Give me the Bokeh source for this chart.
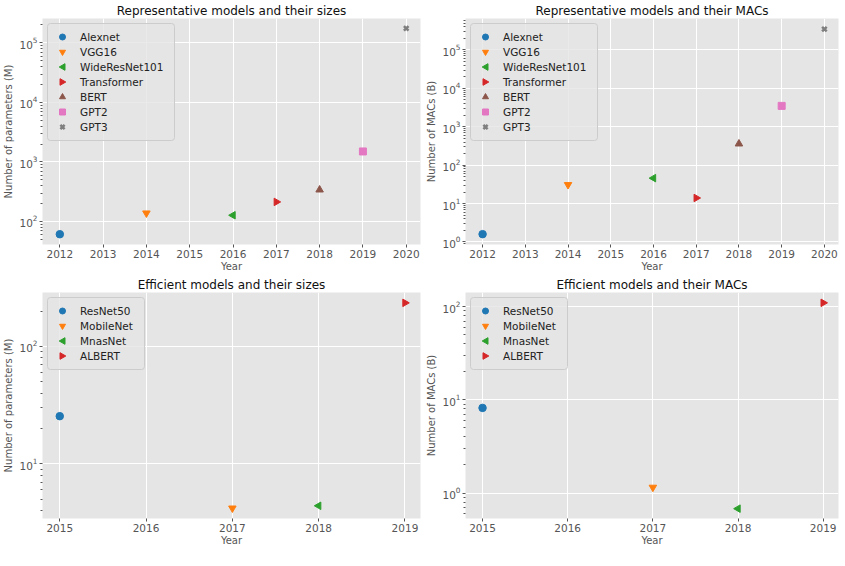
import math
from bokeh.plotting import figure
from bokeh.layouts import column, row
from bokeh.models import (Range1d, FixedTicker, LogTickFormatter, ColumnDataSource, Legend,
                          LegendItem, PolyAnnotation, BoxAnnotation)
from bokeh.embed import file_html
from bokeh.resources import INLINE

# ---- data ----
rep_models = ["Alexnet", "VGG16", "WideResNet101", "Transformer", "BERT", "GPT2", "GPT3"]
rep_years = [2012, 2014, 2016, 2017, 2018, 2019, 2020]
rep_params_M = [61, 138, 127, 213, 340, 1500, 175000]
rep_macs_B = [1.6, 31, 46, 14, 360, 3500, 350000]
rep_ticks = [2012, 2013, 2014, 2015, 2016, 2017, 2018, 2019, 2020]

eff_models = ["ResNet50", "MobileNet", "MnasNet", "ALBERT"]
eff_years = [2015, 2017, 2018, 2019]
eff_params_M = [25.5, 4.2, 4.4, 235]
eff_macs_B = [8.2, 1.15, 0.68, 110]
eff_ticks = [2015, 2016, 2017, 2018, 2019]

colors = ["#1f77b4", "#ff7f0e", "#2ca02c", "#d62728", "#8c564b", "#e377c2", "#7f7f7f"]
markers = ["circle", "inverted_triangle", "triangle", "triangle", "triangle", "square", "x"]
# 0 = none, +1 = points left, -1 = points right
turns = [0, 0, 1, -1, 0, 0, 0]

major_log = [10.0 ** k for k in range(-1, 7)]
minor_log = [m * 10.0 ** k for k in range(-1, 6) for m in range(2, 10)]

FONT = "DejaVu Sans"
FRAME_H = 226
LG_MARGIN, LG_PAD, LG_GW, LG_ROW, LG_STAND = 5, 6, 18, 15, 9


def make_panel(title, ylabel, models, years, vals, ticks, xr, yr, fw, bl, br, label_w):
    p = figure(frame_width=fw, frame_height=FRAME_H, y_axis_type="log", output_backend="svg",
               toolbar_location=None, x_range=Range1d(*xr), y_range=Range1d(*yr),
               min_border_left=bl, min_border_right=br, min_border_top=4,
               min_border_bottom=4)
    p.title.text = title
    p.title.text_font = FONT
    p.title.text_font_size = "12px"
    p.title.text_font_style = "normal"
    p.title.text_color = "#111111"
    p.title.align = "center"
    p.title.standoff = 2
    p.background_fill_color = "#E5E5E5"
    p.border_fill_color = "white"
    p.outline_line_color = None
    p.grid.grid_line_color = "white"
    p.grid.grid_line_width = 1
    for ax in (p.xaxis[0], p.yaxis[0]):
        ax.axis_line_color = None
        ax.major_tick_line_color = "#555555"
        ax.minor_tick_line_color = "#555555"
        ax.major_tick_out = 3
        ax.major_tick_in = 0
        ax.minor_tick_out = 2
        ax.minor_tick_in = 0
        ax.major_label_text_font = FONT
        ax.major_label_text_font_size = "10.5px"
        ax.major_label_text_color = "#555555"
        ax.axis_label_text_font = FONT
        ax.axis_label_text_font_size = "10px"
        ax.axis_label_text_font_style = "normal"
        ax.axis_label_text_color = "#555555"
        ax.major_label_standoff = 2
        ax.axis_label_standoff = 2
    p.xaxis.ticker = FixedTicker(ticks=ticks)
    p.xaxis.minor_tick_line_color = None
    p.xaxis.axis_label = "Year"
    p.xaxis.axis_label_standoff = 0
    p.yaxis.ticker = FixedTicker(ticks=major_log, minor_ticks=minor_log)
    p.yaxis.formatter = LogTickFormatter()
    p.yaxis.axis_label = ylabel

    # legend frame drawn as an annotation (frame-relative screen units, y from bottom)
    n = len(models)
    box_w = 2 * LG_PAD + LG_GW + LG_STAND + label_w
    box_h = 2 * LG_PAD + n * LG_ROW
    p.add_layout(BoxAnnotation(left=LG_MARGIN, right=LG_MARGIN + box_w,
                               top=FRAME_H - LG_MARGIN, bottom=FRAME_H - LG_MARGIN - box_h,
                               left_units="screen", right_units="screen",
                               top_units="screen", bottom_units="screen",
                               fill_color="#E5E5E5", fill_alpha=0.8,
                               line_color="#CCCCCC", line_width=1, line_alpha=1.0,
                               border_radius=3, level="annotation"))

    items = []
    polys = []
    for i, (m, yy, v) in enumerate(zip(models, years, vals)):
        src = ColumnDataSource(dict(x=[yy], y=[v], a=[turns[i] * math.pi / 2]))
        size = 7.5
        lw = 1
        if markers[i] == "x":
            size, lw = 6.5, 2.5
        if markers[i] == "square":
            size = 7
        r = p.scatter(x="x", y="y", angle="a", source=src, size=size, marker=markers[i],
                      fill_color=colors[i], line_color=colors[i], line_width=lw)
        if turns[i] == 0:
            items.append(LegendItem(label=m, renderers=[r], index=0))
        else:
            dummy = p.scatter(x=[], y=[], marker="circle", size=1, fill_alpha=0, line_alpha=0)
            items.append(LegendItem(label=m, renderers=[dummy]))
            cx = LG_MARGIN + LG_PAD + LG_GW / 2
            cy = FRAME_H - (LG_MARGIN + LG_PAD + i * LG_ROW + LG_ROW / 2)
            d = turns[i]
            xs = [cx - d * 3.3, cx + d * 2.5, cx + d * 2.5]
            ys = [cy, cy - 3.3, cy + 3.3]
            polys.append(PolyAnnotation(xs=xs, ys=ys, xs_units="screen", ys_units="screen",
                                        fill_color=colors[i], fill_alpha=1.0,
                                        line_color=colors[i], line_alpha=1.0,
                                        level="annotation"))
    for pa in polys:
        p.add_layout(pa)

    lg = Legend(items=items, location="top_left")
    lg.background_fill_alpha = 0.0
    lg.border_line_color = "#CCCCCC"
    lg.border_line_alpha = 0.0
    lg.label_text_font = FONT
    lg.label_text_font_size = "10.5px"
    lg.label_text_color = "#222222"
    lg.label_height = LG_ROW
    lg.label_width = label_w
    lg.glyph_height = LG_ROW
    lg.glyph_width = LG_GW
    lg.spacing = 0
    lg.padding = LG_PAD
    lg.margin = LG_MARGIN
    lg.label_standoff = LG_STAND
    p.add_layout(lg, "center")
    return p


p1 = make_panel("Representative models and their sizes", "Number of parameters (M)",
                rep_models, rep_years, rep_params_M, rep_ticks,
                (2011.6, 2020.33), (41, 2.57e5), 378, 33, 3, 88)
p2 = make_panel("Representative models and their MACs", "Number of MACs (B)",
                rep_models, rep_years, rep_macs_B, rep_ticks,
                (2011.6, 2020.33), (0.86, 6.6e5), 373, 40, 2, 88)
p3 = make_panel("Efficient models and their sizes", "Number of parameters (M)",
                eff_models, eff_years, eff_params_M, eff_ticks,
                (2014.8, 2019.18), (3.43, 288), 378, 33, 3, 58)
p4 = make_panel("Efficient models and their MACs", "Number of MACs (B)",
                eff_models, eff_years, eff_macs_B, eff_ticks,
                (2014.8, 2019.18), (0.533, 142), 373, 40, 2, 58)

layout = column(row(p1, p2), row(p3, p4))
open("out.html", "w").write(file_html(layout, INLINE))
